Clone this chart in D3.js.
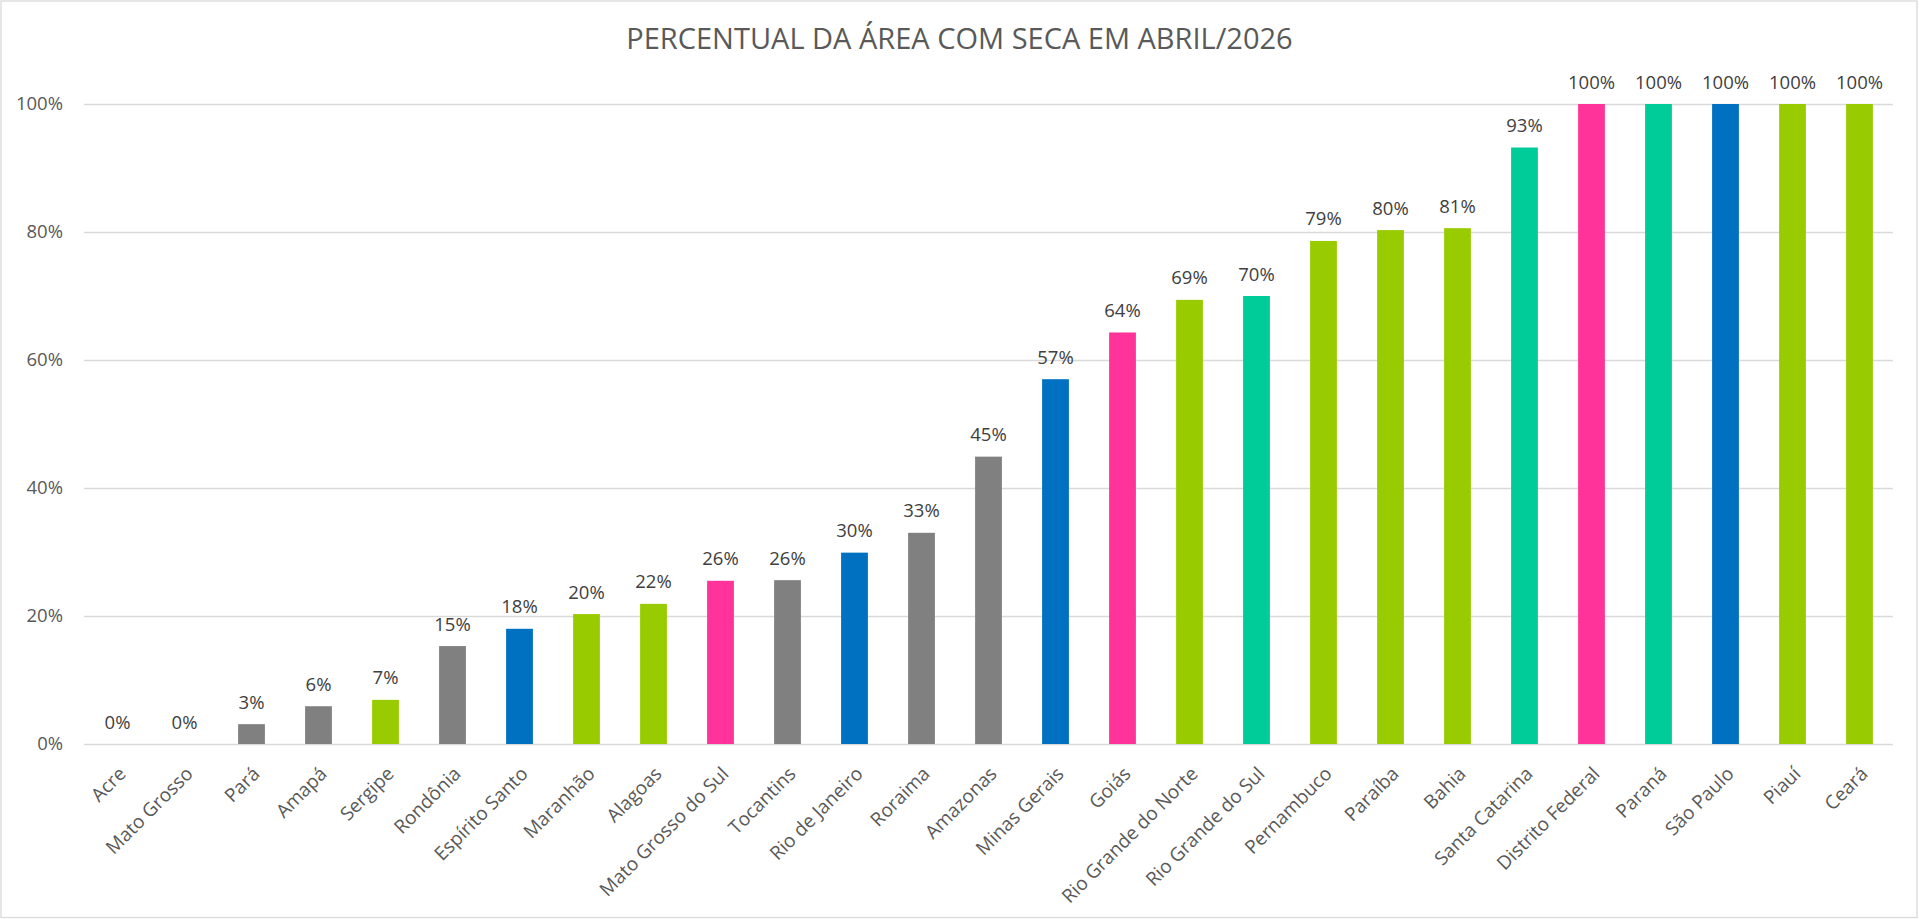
<!DOCTYPE html>
<html>
<head>
<meta charset="utf-8">
<script src="https://cdn.jsdelivr.net/npm/d3@7"></script>
<style>
    body { margin: 0; background: #fff; }
    svg { display: block; font-family: "Open Sans", sans-serif; }
</style>
</head>
<body>
<div id="viz"></div>
<script>
// dados (percentual da área com seca, abril/2026)
const states = ["Acre", "Mato Grosso", "Pará", "Amapá", "Sergipe", "Rondônia", "Espírito Santo",
    "Maranhão", "Alagoas", "Mato Grosso do Sul", "Tocantins", "Rio de Janeiro", "Roraima", "Amazonas",
    "Minas Gerais", "Goiás", "Rio Grande do Norte", "Rio Grande do Sul", "Pernambuco", "Paraíba",
    "Bahia", "Santa Catarina", "Distrito Federal", "Paraná", "São Paulo", "Piauí", "Ceará"];
const regions = ["Norte", "Centro-Oeste", "Norte", "Norte", "Nordeste", "Norte", "Sudeste",
    "Nordeste", "Nordeste", "Centro-Oeste", "Norte", "Sudeste", "Norte", "Norte",
    "Sudeste", "Centro-Oeste", "Nordeste", "Sul", "Nordeste", "Nordeste",
    "Nordeste", "Sul", "Centro-Oeste", "Sul", "Sudeste", "Nordeste", "Nordeste"];
const values = [0, 0, 3.1, 5.9, 6.9, 15.3, 18.0, 20.3, 21.9, 25.5, 25.6, 29.9, 33.0, 44.9,
    57.0, 64.3, 69.4, 70.0, 78.6, 80.3, 80.6, 93.2, 100, 100, 100, 100, 100];
const yTicks = [0, 20, 40, 60, 80, 100];
const regionNames = ["Norte", "Nordeste", "Sudeste", "Centro-Oeste", "Sul"];
const regionColors = ["#808080", "#99cc00", "#0070c0", "#ff3399", "#00cc99"];

const title = "PERCENTUAL DA ÁREA COM SECA EM ABRIL/2026";

const W = 1919, H = 919;
const m = { left: 84, right: 1893, top: 104, bottom: 744 };

let data = states.map((s, i) => ({ name: s, region: regions[i], value: values[i] }));

let svg = d3.select("#viz").append("svg")
    .attr("width", W)
    .attr("height", H);

// moldura
svg.append("rect")
    .attr("x", 1).attr("y", 1)
    .attr("width", W - 3).attr("height", H - 2.5)
    .attr("fill", "#fff")
    .attr("stroke", "#d9d9d9")
    .attr("stroke-width", 1.3);

let x = d3.scaleBand().domain(states).range([m.left, m.right]).paddingInner(0.6).paddingOuter(0.3);
let y = d3.scaleLinear().domain([0, 100]).range([m.bottom, m.top]);
let color = d3.scaleOrdinal().domain(regionNames).range(regionColors);

// eixo y + grade
let axisY = svg.append("g")
    .attr("transform", `translate(${m.left},0)`)
    .call(d3.axisLeft(y).tickValues(yTicks).tickSize(-(m.right - m.left)).tickPadding(21).tickFormat(d => d + "%"));
axisY.select(".domain").remove();
axisY.selectAll("line").attr("stroke", "#d9d9d9").attr("stroke-width", 1.3);
axisY.selectAll("text")
    .attr("fill", "#595959")
    .style("font-size", "18.5px")
    .style("font-family", "Open Sans");

// eixo x (rótulos inclinados)
let axisX = svg.append("g")
    .attr("transform", `translate(0,${m.bottom})`)
    .call(d3.axisBottom(x).tickSize(0));
axisX.select(".domain").remove();
axisX.selectAll("text")
    .attr("y", null)
    .attr("dy", null)
    .attr("transform", "translate(9.5,31) rotate(-45)")
    .attr("text-anchor", "end")
    .attr("fill", "#595959")
    .style("font-size", "19px")
    .style("font-family", "Open Sans");

// barras
svg.append("g").selectAll("rect")
    .data(data)
    .join("rect")
    .attr("class", "bar")
    .attr("x", d => x(d.name))
    .attr("y", d => y(d.value))
    .attr("width", x.bandwidth())
    .attr("height", d => m.bottom - y(d.value))
    .attr("fill", d => color(d.region));

// rótulos
svg.append("g").selectAll("text")
    .data(data)
    .join("text")
    .attr("x", d => x(d.name) + x.bandwidth() / 2)
    .attr("y", d => y(d.value) - 15.5)
    .attr("text-anchor", "middle")
    .attr("fill", "#404040")
    .style("font-size", "18.5px")
    .text(d => Math.round(d.value) + "%");

svg.append("text")
    .attr("x", 959.5)
    .attr("y", 49)
    .attr("text-anchor", "middle")
    .attr("fill", "#595959")
    .style("font-size", "29px")
    .text(title);
</script>
</body>
</html>
